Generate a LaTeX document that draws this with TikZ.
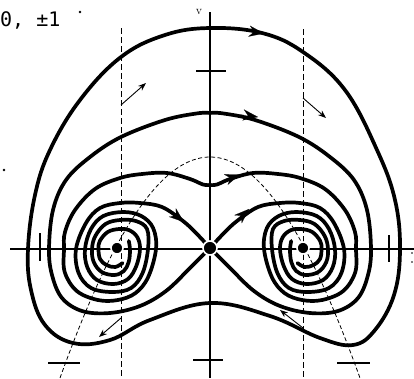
\documentclass[tikz,border=0pt]{standalone}
\usepackage{fontspec}
\newfontfamily\monofont{DejaVu Sans Mono}
\usetikzlibrary{arrows.meta}
\begin{document}
\begin{tikzpicture}[x=1pt,y=-1pt,
  traj/.style={line width=3.7pt, line join=round, line cap=round},
  axisline/.style={line width=1.1pt},
  vdash/.style={line width=1pt, dash pattern=on 6pt off 3pt},
  pdash/.style={line width=0.8pt, dash pattern=on 4pt off 2.5pt},
  thinarrow/.style={-{Stealth[length=8pt,width=6pt]}, line width=0.9pt},
  bigtip/.style={line width=0.1pt, -{Stealth[length=15pt,width=11pt]}},
  eq/.style={circle, fill=black, draw=white, line width=1.6pt, inner sep=0pt, minimum size=14pt},
  mirror/.style={shift={(420,0)}, xscale=-1}
]
\useasboundingbox (0,0) rectangle (414,378);
% axes
\draw[axisline] (10,249) -- (414,249);
\draw[axisline] (210,12) -- (210,378);
\node[font=\large] (vlab) at (199,12) {v};
% ticks
\draw[axisline] (40,233) -- (40,261);
\draw[axisline] (389,235) -- (389,262);
\draw[axisline] (196,71) -- (226,71);
\draw[axisline] (193,360) -- (223,360);
\draw[axisline] (48,363) -- (80,363);
\draw[axisline] (337,363) -- (370,363);
% dashed lines
\draw[vdash] (121,28) -- (121,378);
\draw[vdash] (303,29) -- (303,378);
\draw[pdash] plot[domain=-150:150, samples=80, smooth, variable=\x]
  ({210+\x},{157+104*(\x/100)^2-2.57*(\x/100)^4});
% text
\node[anchor=base west, inner sep=0pt, font=\monofont\fontsize{20}{22}\selectfont] (txt) at (0,26) {0, ±1};
\fill (80,12) circle (1.3pt);
\fill (4,170) circle (1.3pt);
\fill (412,253) circle (0.8pt);
\fill (412,262) circle (0.8pt);
% outer loop A
\draw[traj] plot[smooth cycle, tension=0.65] coordinates {
 (210,28) (262,33) (303,52) (345,90) (377,150) (395,200) (400,250) (394,295)
 (375,330) (353,345) (320,338) (270,316) (210,303) (150,320) (110,340) (73,343)
 (45,325) (31,290) (28,249) (35,195) (50,150) (80,100) (121,57) (165,35)};
% loop B (left half, then mirrored)
\def\Bhalf{(210,248) (190,268) (166,291) (140,306) (110,313) (82,311) (62,298) (52,275)
 (49,249) (53,210) (66,180) (90,157) (121,137) (165,120) (197,113.4) (210,113)}
\draw[traj] plot[smooth, tension=0.6] coordinates {\Bhalf};
\begin{scope}[mirror]
\draw[traj] plot[smooth, tension=0.6] coordinates {\Bhalf};
\end{scope}
% curve C (left half spirals round the left focus; mirrored half round the right focus)
\def\Chalf{(210,185) (203,184.5) (190,179) (167,173) (142,174) (120,178) (95,189) (75,210) (65,232)
 (64,249) (64.7,272) (76.8,291) (97.9,300) (117.9,300) (135.6,293) (148.2,277) (156,249) (153.1,228)
 (141.3,216) (123.7,212) (103.3,216) (91,229) (85,249) (87.2,267) (96.9,280) (113.5,284) (128,279)
 (136.3,266) (140,249) (137.2,237) (128.9,230) (119,229) (107.7,232) (99.8,241) (98.5,249)
 (100,259) (106.4,265) (115.2,267) (122.6,263)}
\draw[traj] plot[smooth, tension=0.6] coordinates {\Chalf};
\begin{scope}[mirror]
\draw[traj] plot[smooth, tension=0.6] coordinates {\Chalf};
\end{scope}
% curve D (left) and its mirror E (right): from saddle spiralling round a focus
\def\Dhalf{(210,248) (196,233) (183,221) (162,207) (140,203) (120,203) (100,208) (86,223)
 (76,249) (78.6,273) (91.1,288) (112.7,292) (131.1,288) (142.6,273) (148,249) (147,229) (135.8,221)
 (119.9,220) (105.5,224) (95.3,236) (92,249) (93.7,262) (101.7,272) (114.4,275) (123.8,271) (128.7,262)
 (130,250) (128.8,241)}
\draw[traj] plot[smooth, tension=0.6] coordinates {\Dhalf};
\begin{scope}[mirror]
\draw[traj] plot[smooth, tension=0.6] coordinates {\Dhalf};
\end{scope}
% big arrowheads
\draw[bigtip] (245,30.5) -- (264,33.5);
\draw[bigtip] (240,114.5) -- (258,117);
\draw[bigtip] (222,181) -- (240,174.5);
\draw[bigtip] (235,222) -- (249,209);
\draw[bigtip] (168,209) -- (184,222);
% thin arrows
\draw[thinarrow] (121,105) -- (146,83);
\draw[thinarrow] (303,98) -- (326,118);
\draw[thinarrow] (121,318) -- (99,337);
\draw[thinarrow] (303,328) -- (280,310);
% equilibria
\node[eq] (S) at (210,248) {};
\node[eq, minimum size=12pt] (F1) at (117,248) {};
\node[eq, minimum size=12pt] (F2) at (303,248) {};
\end{tikzpicture}
\end{document}
